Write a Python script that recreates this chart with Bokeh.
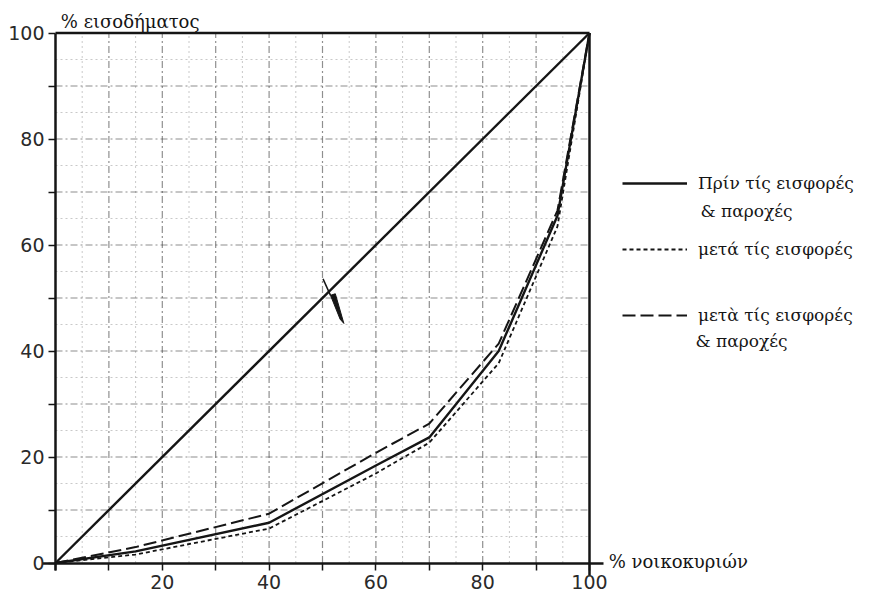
from bokeh.plotting import figure
from bokeh.models import FixedTicker, Legend, LegendItem, Label, Range1d
from bokeh.embed import file_html
from bokeh.resources import INLINE

# ---- data ----
households_pct = [0, 15, 40, 60, 70, 83, 94, 100]
before_contrib_benefits = [0, 2.2, 7.6, 18.4, 23.7, 40.0, 65.5, 100]
after_contrib = [0, 1.6, 6.5, 16.9, 22.7, 37.7, 63.5, 100]
after_contrib_benefits = [0, 3.0, 9.3, 20.8, 26.3, 41.4, 66.5, 100]
equality_x = [0, 100]
equality_y = [0, 100]
tick_values = [0, 20, 40, 60, 80, 100]
minor_tick_values = [10, 30, 50, 70, 90]
grid_major = [10, 20, 30, 40, 50, 60, 70, 80, 90]
grid_minor = [5, 15, 25, 35, 45, 55, 65, 75, 85, 95]
pointer_line_x = [50.1, 51.5]
pointer_line_y = [53.6, 50.5]
pointer_x = [51.5, 53.3, 54.0, 52.4]
pointer_y = [50.5, 46.0, 45.2, 50.8]

y_title = "% εισοδήματος"
x_title = "% νοικοκυριών"
legend_labels = ["Πρίν τίς εισφορές", "μετά τίς εισφορές", "μετὰ τίς εισφορές"]
legend_second = "& παροχές"

INK = "#151515"
SERIF = "DejaVu Serif"
SANS = "DejaVu Sans"

W, H = 872, 597
X0_PX, PX_PER_X = 55.0, 5.34      # page pixel of x=0 and pixels per unit
Y0_PX, PX_PER_Y = 562.5, 5.3      # page pixel of y=0 and pixels per unit
x_range = Range1d(-X0_PX / PX_PER_X, (W - X0_PX) / PX_PER_X)
y_range = Range1d((Y0_PX - H) / PX_PER_Y, Y0_PX / PX_PER_Y)

p = figure(width=W, height=H, x_range=x_range, y_range=y_range,
           output_backend="svg", toolbar_location=None,
           min_border=0, min_border_left=0, min_border_right=0,
           min_border_top=0, min_border_bottom=0)
p.outline_line_color = None
p.background_fill_color = "white"
p.xgrid.visible = False
p.ygrid.visible = False

# graph-paper grid inside the square only
lo, hi = 0, 100
p.segment(x0=grid_minor, y0=[lo] * len(grid_minor), x1=grid_minor, y1=[hi] * len(grid_minor),
          line_color="#777777", line_alpha=0.4, line_width=1, line_dash="2 3")
p.segment(x0=[lo] * len(grid_minor), y0=grid_minor, x1=[hi] * len(grid_minor), y1=grid_minor,
          line_color="#777777", line_alpha=0.4, line_width=1, line_dash="2 3")
p.segment(x0=grid_major, y0=[lo] * len(grid_major), x1=grid_major, y1=[hi] * len(grid_major),
          line_color="#444444", line_alpha=0.6, line_width=1.2, line_dash="7 3 2 3")
p.segment(x0=[lo] * len(grid_major), y0=grid_major, x1=[hi] * len(grid_major), y1=grid_major,
          line_color="#444444", line_alpha=0.6, line_width=1.2, line_dash="7 3 2 3")

# frame: top and right borders
p.line([0, 100], [100, 100], line_color=INK, line_width=2.5)
p.line([100, 100], [-2.4, 100], line_color=INK, line_width=2.5)

# axes fixed at 0
p.xaxis.fixed_location = 0
p.yaxis.fixed_location = 0
p.xaxis.bounds = (-2.4, 102.6)
p.yaxis.bounds = (-1.5, 100)
for ax in (p.xaxis, p.yaxis):
    ax.ticker = FixedTicker(ticks=tick_values, minor_ticks=minor_tick_values)
    ax.axis_line_color = INK
    ax.axis_line_width = 2.5
    ax.major_tick_in = 0
    ax.major_tick_out = 7
    ax.minor_tick_in = 0
    ax.minor_tick_out = 7
    ax.major_tick_line_color = INK
    ax.minor_tick_line_color = INK
    ax.major_tick_line_width = 1.5
    ax.minor_tick_line_width = 1.5
    ax.major_label_text_font = SANS
    ax.major_label_text_font_size = "19px"
    ax.major_label_text_color = "#2a2a2a"
p.xaxis.major_label_overrides = {0: ""}
p.xaxis.major_label_standoff = 5
p.yaxis.major_label_standoff = 4

# lines
p.line(equality_x, equality_y, line_color=INK, line_width=2.4)
r_before = p.line(households_pct, before_contrib_benefits, line_color=INK, line_width=2.4)
r_contrib = p.line(households_pct, after_contrib, line_color=INK, line_width=1.8, line_dash="4 3")
r_both = p.line(households_pct, after_contrib_benefits, line_color=INK, line_width=2.0, line_dash="13 5")

# pointer mark
p.line(pointer_line_x, pointer_line_y, line_color=INK, line_width=1.5)
p.patch(pointer_x, pointer_y, fill_color=INK, line_color=INK, line_width=1)

# titles
p.add_layout(Label(x=1.0, y=102.2, text=y_title, text_font=SERIF, text_font_size="18px",
                   text_color=INK, text_baseline="middle"))
p.add_layout(Label(x=103.6, y=0.2, text=x_title, text_font=SERIF, text_font_size="18px",
                   text_color=INK, text_baseline="middle"))

# legend
legend = Legend(items=[LegendItem(label=legend_labels[0], renderers=[r_before]),
                       LegendItem(label=legend_labels[1], renderers=[r_contrib]),
                       LegendItem(label=legend_labels[2], renderers=[r_both])],
                location=(622, H - 325), glyph_width=65, glyph_height=20, label_height=20,
                spacing=46, padding=0, margin=0, border_line_alpha=0,
                background_fill_alpha=0, label_standoff=11,
                label_text_font=SERIF, label_text_font_size="17px", label_text_color=INK)
p.add_layout(legend)

p.add_layout(Label(x=(700 - X0_PX) / PX_PER_X, y=(Y0_PX - 210) / PX_PER_Y, text=legend_second,
                   text_font=SERIF, text_font_size="17px", text_color=INK, text_baseline="middle"))
p.add_layout(Label(x=(695 - X0_PX) / PX_PER_X, y=(Y0_PX - 340) / PX_PER_Y, text=legend_second,
                   text_font=SERIF, text_font_size="17px", text_color=INK, text_baseline="middle"))

open("out.html", "w").write(file_html(p, INLINE))
